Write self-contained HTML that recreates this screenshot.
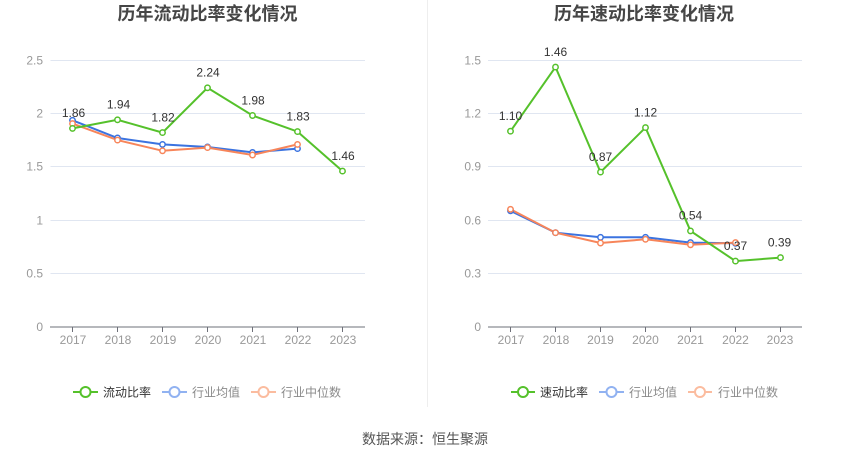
<!DOCTYPE html>
<html><head><meta charset="utf-8"><style>
html,body{margin:0;padding:0;background:#fff;}
svg{display:block;font-family:"Liberation Sans","Noto Sans CJK SC",sans-serif;}
</style></head><body>
<svg width="850" height="459" viewBox="0 0 850 459" xmlns="http://www.w3.org/2000/svg">
<rect width="850" height="459" fill="#fff"/>
<line x1="427.5" y1="0" x2="427.5" y2="407" stroke="#eeeeee" stroke-width="1"/>

<!-- LEFT CHART -->
<text x="207.5" y="20" text-anchor="middle" font-size="18" font-weight="bold" fill="#464646">历年流动比率变化情况</text>
<g stroke="#e0e6f1" stroke-width="1">
<line x1="50.5" y1="60.5" x2="365" y2="60.5"/>
<line x1="50.5" y1="113.5" x2="365" y2="113.5"/>
<line x1="50.5" y1="166.5" x2="365" y2="166.5"/>
<line x1="50.5" y1="220.5" x2="365" y2="220.5"/>
<line x1="50.5" y1="273.5" x2="365" y2="273.5"/>
</g>
<line x1="50" y1="327" x2="365" y2="327" stroke="#6e7079" stroke-width="1"/>
<g stroke="#6e7079" stroke-width="1">
<line x1="72.5" y1="327" x2="72.5" y2="332"/><line x1="117.5" y1="327" x2="117.5" y2="332"/><line x1="162.5" y1="327" x2="162.5" y2="332"/><line x1="207.5" y1="327" x2="207.5" y2="332"/><line x1="252.5" y1="327" x2="252.5" y2="332"/><line x1="297.5" y1="327" x2="297.5" y2="332"/><line x1="342.5" y1="327" x2="342.5" y2="332"/>
</g>
<g font-size="12" fill="#999" text-anchor="end">
<text x="43" y="64.5">2.5</text><text x="43" y="117.5">2</text><text x="43" y="170.5">1.5</text><text x="43" y="224.5">1</text><text x="43" y="277.5">0.5</text><text x="43" y="331">0</text>
</g>
<g font-size="12" fill="#999" text-anchor="middle">
<text x="73" y="344">2017</text><text x="118" y="344">2018</text><text x="163" y="344">2019</text><text x="208" y="344">2020</text><text x="253" y="344">2021</text><text x="298" y="344">2022</text><text x="343" y="344">2023</text>
</g>
<polyline fill="none" stroke="#3b73e0" stroke-width="2" points="72.5,120.3 117.5,138 162.5,144.4 207.5,147 252.5,152.4 297.5,148.6"/>
<polyline fill="none" stroke="#f7855a" stroke-width="2" points="72.5,123.6 117.5,140.1 162.5,150.8 207.5,147.6 252.5,155 297.5,144.4"/>
<polyline fill="none" stroke="#55c12b" stroke-width="2" points="72.5,128.4 117.5,119.8 162.5,132.6 207.5,87.8 252.5,115.5 297.5,131.6 342.5,171.1"/>
<g fill="#fff" stroke="#3b73e0" stroke-width="1.5">
<circle cx="72.5" cy="120.3" r="2.7"/><circle cx="117.5" cy="138" r="2.7"/><circle cx="162.5" cy="144.4" r="2.7"/><circle cx="207.5" cy="147" r="2.7"/><circle cx="252.5" cy="152.4" r="2.7"/><circle cx="297.5" cy="148.6" r="2.7"/>
</g>
<g fill="#fff" stroke="#f7855a" stroke-width="1.5">
<circle cx="72.5" cy="123.6" r="2.7"/><circle cx="117.5" cy="140.1" r="2.7"/><circle cx="162.5" cy="150.8" r="2.7"/><circle cx="207.5" cy="147.6" r="2.7"/><circle cx="252.5" cy="155" r="2.7"/><circle cx="297.5" cy="144.4" r="2.7"/>
</g>
<g fill="#fff" stroke="#55c12b" stroke-width="1.5">
<circle cx="72.5" cy="128.4" r="2.7"/><circle cx="117.5" cy="119.8" r="2.7"/><circle cx="162.5" cy="132.6" r="2.7"/><circle cx="207.5" cy="87.8" r="2.7"/><circle cx="252.5" cy="115.5" r="2.7"/><circle cx="297.5" cy="131.6" r="2.7"/><circle cx="342.5" cy="171.1" r="2.7"/>
</g>
<g font-size="12" fill="#333" text-anchor="middle">
<text x="73.5" y="117.2">1.86</text><text x="118.5" y="108.6">1.94</text><text x="163" y="121.4">1.82</text><text x="208" y="76.6">2.24</text><text x="253" y="104.3">1.98</text><text x="298" y="120.4">1.83</text><text x="343" y="159.9">1.46</text>
</g>
<!-- left legend -->
<g>
<line x1="73" y1="392" x2="98" y2="392" stroke="#55c12b" stroke-width="2"/>
<circle cx="85.5" cy="392" r="5" fill="#fff" stroke="#55c12b" stroke-width="2"/>
<text x="103" y="396.5" font-size="12" fill="#333">流动比率</text>
<line x1="162" y1="392" x2="187" y2="392" stroke="#91b2f1" stroke-width="2"/>
<circle cx="174.5" cy="392" r="5" fill="#fff" stroke="#91b2f1" stroke-width="2"/>
<text x="192" y="396.5" font-size="12" fill="#8a8a8a">行业均值</text>
<line x1="251" y1="392" x2="276" y2="392" stroke="#fbbc9f" stroke-width="2"/>
<circle cx="263.5" cy="392" r="5" fill="#fff" stroke="#fbbc9f" stroke-width="2"/>
<text x="281" y="396.5" font-size="12" fill="#8a8a8a">行业中位数</text>
</g>

<!-- RIGHT CHART -->
<text x="644" y="20" text-anchor="middle" font-size="18" font-weight="bold" fill="#464646">历年速动比率变化情况</text>
<g stroke="#e0e6f1" stroke-width="1">
<line x1="488" y1="60.5" x2="802" y2="60.5"/>
<line x1="488" y1="113.5" x2="802" y2="113.5"/>
<line x1="488" y1="166.5" x2="802" y2="166.5"/>
<line x1="488" y1="220.5" x2="802" y2="220.5"/>
<line x1="488" y1="273.5" x2="802" y2="273.5"/>
</g>
<line x1="488" y1="327" x2="802" y2="327" stroke="#6e7079" stroke-width="1"/>
<g stroke="#6e7079" stroke-width="1">
<line x1="510.5" y1="327" x2="510.5" y2="332"/><line x1="555.5" y1="327" x2="555.5" y2="332"/><line x1="600.5" y1="327" x2="600.5" y2="332"/><line x1="645.5" y1="327" x2="645.5" y2="332"/><line x1="690.5" y1="327" x2="690.5" y2="332"/><line x1="735.5" y1="327" x2="735.5" y2="332"/><line x1="780.5" y1="327" x2="780.5" y2="332"/>
</g>
<g font-size="12" fill="#999" text-anchor="end">
<text x="481" y="64.5">1.5</text><text x="481" y="117.5">1.2</text><text x="481" y="170.5">0.9</text><text x="481" y="224.5">0.6</text><text x="481" y="277.5">0.3</text><text x="481" y="331">0</text>
</g>
<g font-size="12" fill="#999" text-anchor="middle">
<text x="511" y="344">2017</text><text x="556" y="344">2018</text><text x="600.5" y="344">2019</text><text x="645.5" y="344">2020</text><text x="690.5" y="344">2021</text><text x="735.5" y="344">2022</text><text x="780" y="344">2023</text>
</g>
<polyline fill="none" stroke="#3b73e0" stroke-width="2" points="510.5,210.8 555.5,232.7 600.5,237.3 645.5,237.3 690.5,242.6 735.5,243.3"/>
<polyline fill="none" stroke="#f7855a" stroke-width="2" points="510.5,209.3 555.5,232.7 600.5,243 645.5,239.3 690.5,244.8 735.5,242.6"/>
<polyline fill="none" stroke="#55c12b" stroke-width="2" points="510.5,131.2 555.5,67.1 600.5,172.1 645.5,127.6 690.5,230.9 735.5,261.1 780.5,257.6"/>
<g fill="#fff" stroke="#3b73e0" stroke-width="1.5">
<circle cx="510.5" cy="210.8" r="2.7"/><circle cx="555.5" cy="232.7" r="2.7"/><circle cx="600.5" cy="237.3" r="2.7"/><circle cx="645.5" cy="237.3" r="2.7"/><circle cx="690.5" cy="242.6" r="2.7"/><circle cx="735.5" cy="243.3" r="2.7"/>
</g>
<g fill="#fff" stroke="#f7855a" stroke-width="1.5">
<circle cx="510.5" cy="209.3" r="2.7"/><circle cx="555.5" cy="232.7" r="2.7"/><circle cx="600.5" cy="243" r="2.7"/><circle cx="645.5" cy="239.3" r="2.7"/><circle cx="690.5" cy="244.8" r="2.7"/><circle cx="735.5" cy="242.6" r="2.7"/>
</g>
<g fill="#fff" stroke="#55c12b" stroke-width="1.5">
<circle cx="510.5" cy="131.2" r="2.7"/><circle cx="555.5" cy="67.1" r="2.7"/><circle cx="600.5" cy="172.1" r="2.7"/><circle cx="645.5" cy="127.6" r="2.7"/><circle cx="690.5" cy="230.9" r="2.7"/><circle cx="735.5" cy="261.1" r="2.7"/><circle cx="780.5" cy="257.6" r="2.7"/>
</g>
<g font-size="12" fill="#333" text-anchor="middle">
<text x="510.5" y="120">1.10</text><text x="555.5" y="55.9">1.46</text><text x="600.5" y="160.9">0.87</text><text x="645.5" y="116.4">1.12</text><text x="690.5" y="219.7">0.54</text><text x="735.5" y="249.9">0.37</text><text x="779.5" y="246.4">0.39</text>
</g>
<!-- right legend -->
<g>
<line x1="511" y1="392" x2="535" y2="392" stroke="#55c12b" stroke-width="2"/>
<circle cx="523" cy="392" r="5" fill="#fff" stroke="#55c12b" stroke-width="2"/>
<text x="540" y="396.5" font-size="12" fill="#333">速动比率</text>
<line x1="599" y1="392" x2="624" y2="392" stroke="#91b2f1" stroke-width="2"/>
<circle cx="611.5" cy="392" r="5" fill="#fff" stroke="#91b2f1" stroke-width="2"/>
<text x="629" y="396.5" font-size="12" fill="#8a8a8a">行业均值</text>
<line x1="688" y1="392" x2="712" y2="392" stroke="#fbbc9f" stroke-width="2"/>
<circle cx="700" cy="392" r="5" fill="#fff" stroke="#fbbc9f" stroke-width="2"/>
<text x="718" y="396.5" font-size="12" fill="#8a8a8a">行业中位数</text>
</g>

<text x="425" y="444" text-anchor="middle" font-size="14" fill="#555">数据来源：恒生聚源</text>
</svg>
</body></html>
